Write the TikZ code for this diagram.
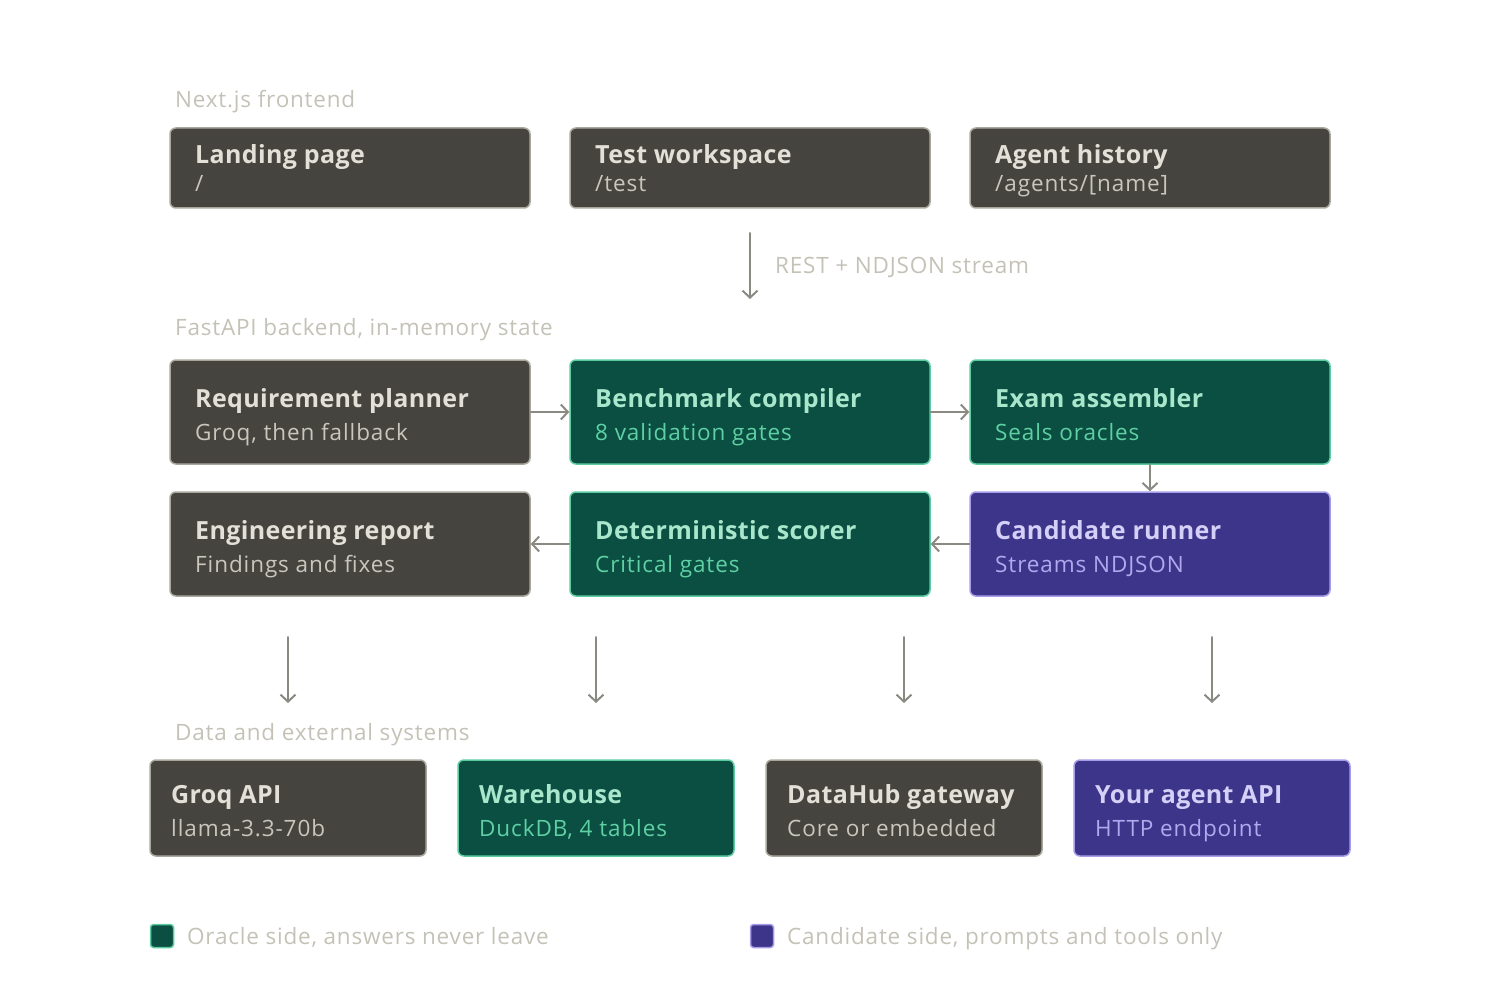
\documentclass[tikz,border=0pt]{standalone}
\usepackage{fontspec}
\setmainfont{Open Sans}
\usetikzlibrary{arrows.meta,calc}
\definecolor{stone}{HTML}{45443F}
\definecolor{stoneline}{HTML}{A9A79C}
\definecolor{stonetitle}{HTML}{E2E0D7}
\definecolor{stonesub}{HTML}{C9C7BC}
\definecolor{oracle}{HTML}{0A4F41}
\definecolor{oracleline}{HTML}{5CCBA0}
\definecolor{oracletitle}{HTML}{A9E7CD}
\definecolor{oraclesub}{HTML}{5FD0A4}
\definecolor{cand}{HTML}{3D358A}
\definecolor{candline}{HTML}{A69CE7}
\definecolor{candtitle}{HTML}{D4D0F7}
\definecolor{candsub}{HTML}{B1A9EE}
\definecolor{hint}{HTML}{C4C2B7}
\definecolor{wire}{HTML}{8B8A82}
\begin{document}
\begin{tikzpicture}[x=1pt,y=-1pt,line join=round,line cap=round,
	box/.style={draw,rounded corners=6pt,line width=1.5pt,inner sep=0pt},
	greybox/.style={box,fill=stone,draw=stoneline},
	greenbox/.style={box,fill=oracle,draw=oracleline},
	violetbox/.style={box,fill=cand,draw=candline},
	ttl/.style={anchor=base west,inner sep=0pt,font=\fontsize{25}{30}\selectfont\bfseries\addfontfeature{LetterSpace=1.5}},
	sub/.style={anchor=base west,inner sep=0pt,font=\fontsize{22.5}{27}\selectfont\addfontfeature{LetterSpace=4}},
	hd/.style={anchor=base west,inner sep=0pt,text=hint,font=\fontsize{22.5}{27}\selectfont\addfontfeature{LetterSpace=3.5}},
	arr/.style={-{Straight Barb[length=7pt,width=15pt,line width=2pt]},draw=wire,line width=2pt}]
	%========================
	\useasboundingbox (0,0) rectangle (1502,992);
	%======================== frontend
	\node[hd] (hfront) at (175,108) {Next.js frontend};
	\node[greybox,minimum width=360pt,minimum height=80pt] (land) at (350,168) {};
	\node[greybox,minimum width=360pt,minimum height=80pt] (test) at (750,168) {};
	\node[greybox,minimum width=360pt,minimum height=80pt] (hist) at (1150,168) {};
	\node[ttl,text=stonetitle] (landT) at (195,164) {Landing page};
	\node[sub,text=stonesub] (landS) at (195,192) {/};
	\node[ttl,text=stonetitle] (testT) at (595,164) {Test workspace};
	\node[sub,text=stonesub] (testS) at (595,192) {/test};
	\node[ttl,text=stonetitle] (histT) at (995,164) {Agent history};
	\node[sub,text=stonesub] (histS) at (995,192) {/agents/[name]};
	%======================== api link
	\coordinate (apiA) at (750,233);
	\coordinate (apiB) at (750,299);
	\draw[arr] (apiA) -- (apiB);
	\node[hd] (hapi) at (775,274) {REST + NDJSON stream};
	%======================== backend
	\node[hd] (hback) at (175,336) {FastAPI backend, in-memory state};
	\node[greybox,minimum width=360pt,minimum height=104pt] (plan) at (350,412) {};
	\node[greenbox,minimum width=360pt,minimum height=104pt] (comp) at (750,412) {};
	\node[greenbox,minimum width=360pt,minimum height=104pt] (asm) at (1150,412) {};
	\node[greybox,minimum width=360pt,minimum height=104pt] (rep) at (350,544) {};
	\node[greenbox,minimum width=360pt,minimum height=104pt] (scor) at (750,544) {};
	\node[violetbox,minimum width=360pt,minimum height=104pt] (run) at (1150,544) {};
	\node[ttl,text=stonetitle] (planT) at (195,407) {Requirement planner};
	\node[sub,text=stonesub] (planS) at (195,440) {Groq, then fallback};
	\node[ttl,text=oracletitle] (compT) at (595,407) {Benchmark compiler};
	\node[sub,text=oraclesub] (compS) at (595,440) {8 validation gates};
	\node[ttl,text=oracletitle] (asmT) at (995,407) {Exam assembler};
	\node[sub,text=oraclesub] (asmS) at (995,440) {Seals oracles};
	\node[ttl,text=stonetitle] (repT) at (195,539) {Engineering report};
	\node[sub,text=stonesub] (repS) at (195,572) {Findings and fixes};
	\node[ttl,text=oracletitle] (scorT) at (595,539) {Deterministic scorer};
	\node[sub,text=oraclesub] (scorS) at (595,572) {Critical gates};
	\node[ttl,text=candtitle] (runT) at (995,539) {Candidate runner};
	\node[sub,text=candsub] (runS) at (995,572) {Streams NDJSON};
	\draw[arr] (plan.east) -- (comp.west);
	\draw[arr] (comp.east) -- (asm.west);
	\draw[arr] (asm.south) -- (run.north);
	\draw[arr] (run.west) -- (scor.east);
	\draw[arr] (scor.west) -- (rep.east);
	%======================== down links
	\foreach \i/\xx in {1/288,2/596,3/904,4/1212}{
		\coordinate (dA\i) at (\xx,637);
		\coordinate (dB\i) at (\xx,703);
		\draw[arr] (dA\i) -- (dB\i);}
	%======================== data
	\node[hd] (hdata) at (175,740) {Data and external systems};
	\node[greybox,minimum width=276pt,minimum height=96pt] (groq) at (288,808) {};
	\node[greenbox,minimum width=276pt,minimum height=96pt] (ware) at (596,808) {};
	\node[greybox,minimum width=276pt,minimum height=96pt] (hub) at (904,808) {};
	\node[violetbox,minimum width=276pt,minimum height=96pt] (agent) at (1212,808) {};
	\node[ttl,text=stonetitle] (groqT) at (171,803) {Groq API};
	\node[sub,text=stonesub] (groqS) at (171,836) {llama-3.3-70b};
	\node[ttl,text=oracletitle] (wareT) at (479,803) {Warehouse};
	\node[sub,text=oraclesub] (wareS) at (479,836) {DuckDB, 4 tables};
	\node[ttl,text=stonetitle] (hubT) at (787,803) {DataHub gateway};
	\node[sub,text=stonesub] (hubS) at (787,836) {Core or embedded};
	\node[ttl,text=candtitle] (agentT) at (1095,803) {Your agent API};
	\node[sub,text=candsub] (agentS) at (1095,836) {HTTP endpoint};
	%======================== legend
	\node[box,fill=oracle,draw=oracleline,minimum size=23pt,rounded corners=3pt] (kOra) at (162,936) {};
	\node[hd] (kOraT) at (187,944) {Oracle side, answers never leave};
	\node[box,fill=cand,draw=candline,minimum size=23pt,rounded corners=3pt] (kCan) at (762,936) {};
	\node[hd] (kCanT) at (787,944) {Candidate side, prompts and tools only};
	%========================
\end{tikzpicture}
\end{document}
